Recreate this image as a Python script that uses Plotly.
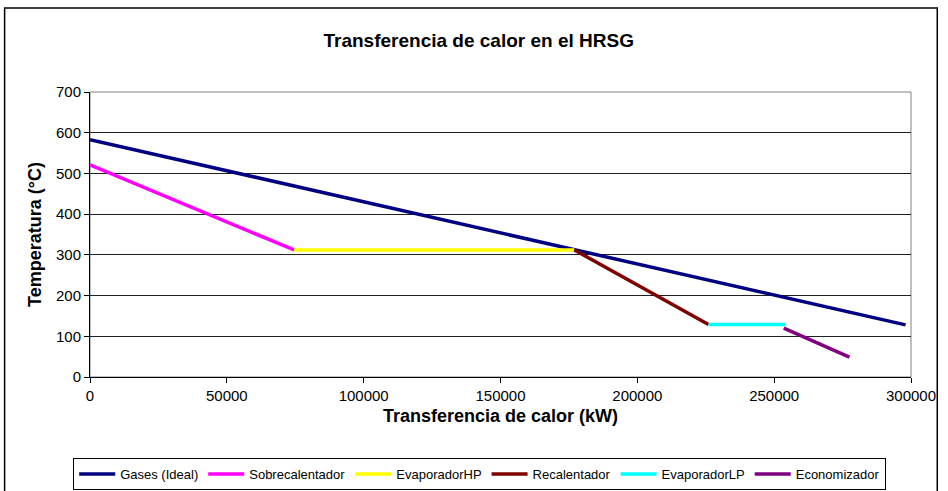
import plotly.graph_objects as go

# heat transferred (kW) and temperature (°C) for each stream
gases_q = [0, 298000]
gases_t = [583, 128]
sobre_q = [0, 74600]
sobre_t = [521, 312]
evap_hp_q = [74600, 177000]
evap_hp_t = [312, 312]
recal_q = [177000, 226000]
recal_t = [312, 129]
evap_lp_q = [226000, 254000]
evap_lp_t = [129, 129]
econ_q = [253500, 277500]
econ_t = [120, 49]

x_ticks = [0, 50000, 100000, 150000, 200000, 250000, 300000]
y_ticks = [0, 100, 200, 300, 400, 500, 600, 700]

series = [
    ("Gases (Ideal)", gases_q, gases_t, "#000080"),
    ("Sobrecalentador", sobre_q, sobre_t, "#FF00FF"),
    ("EvaporadorHP", evap_hp_q, evap_hp_t, "#FFFF00"),
    ("Recalentador", recal_q, recal_t, "#800000"),
    ("EvaporadorLP", evap_lp_q, evap_lp_t, "#00FFFF"),
    ("Economizador", econ_q, econ_t, "#800080"),
]

fig = go.Figure()
for name, q, t, col in series:
    fig.add_trace(go.Scatter(x=q, y=t, mode="lines", name=name,
                             line=dict(color=col, width=3.5)))

font = "Liberation Sans, Arial, sans-serif"

fig.update_layout(
    width=948, height=491,
    margin=dict(l=90, r=30, t=92, b=114),
    paper_bgcolor="white", plot_bgcolor="white",
    font=dict(family=font, size=14, color="black"),
    title=dict(text="<b>Transferencia de calor en el HRSG</b>",
               x=0.505, xanchor="center", y=0.918, yanchor="middle",
               font=dict(size=19)),
    showlegend=True,
    legend=dict(orientation="h", xref="container", yref="container",
                x=0.506, xanchor="center", y=0.067, yanchor="top",
                bordercolor="black", borderwidth=1, font=dict(size=13),
                itemwidth=36, tracegroupgap=0),
    xaxis=dict(range=[0, 300000], tickvals=x_ticks, ticktext=[str(v) for v in x_ticks],
               showgrid=False, zeroline=False, showline=True, linecolor="black",
               linewidth=1, ticks="outside", ticklen=5, tickcolor="black",
               tickfont=dict(size=15),
               title=dict(text="<b>Transferencia de calor (kW)</b>", font=dict(size=18),
                          standoff=6)),
    yaxis=dict(range=[0, 700], tickvals=y_ticks, showgrid=True, gridcolor="#202020",
               gridwidth=1, zeroline=False, showline=True, linecolor="black",
               linewidth=1, ticks="outside", ticklen=5, tickcolor="black",
               tickfont=dict(size=15),
               title=dict(text="<b>Temperatura (°C)</b>", font=dict(size=18),
                          standoff=9)),
    shapes=[
        dict(type="rect", xref="paper", yref="paper", x0=0, x1=1, y0=0, y1=1,
             line=dict(color="#808080", width=1), layer="below"),
        dict(type="rect", xref="paper", yref="paper", x0=-0.104, x1=1.032,
             y0=-0.45, y1=1.295, line=dict(color="black", width=1.5)),
    ],
)

# the page body has a default 8px margin; drop it so the chart fills the window
fig.write_html("out.html", config={"displayModeBar": False},
               post_script="document.body.style.margin='0';")
